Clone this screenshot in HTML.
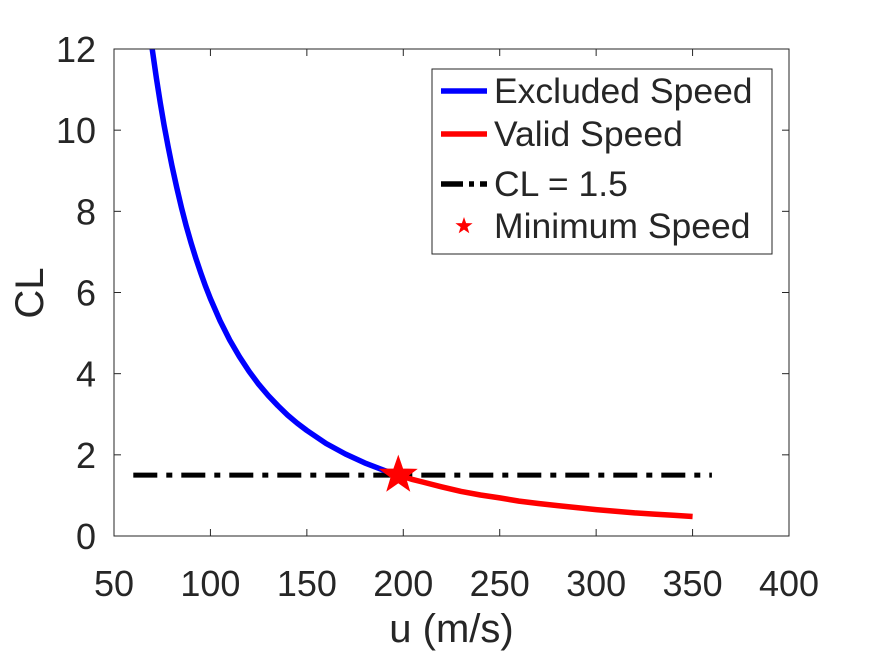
<!DOCTYPE html>
<html><head><meta charset="utf-8"><style>body{margin:0;background:#fff}svg{display:block}text{font-family:"Liberation Sans",sans-serif;fill:#262626}</style></head>
<body>
<svg id="chart" width="872" height="654">
<rect x="0" y="0" width="872" height="654" fill="#fff"/>
<g id="plot"></g>
</svg>
<script>
const excludedU=[69,70,72,74,76,78,80,82.5,85,87.5,90,92.5,95,97.5,100,105,110,115,120,125,130,135,140,145,150,160,170,180,190,197.4];
const excludedCL=[12.28,11.93,11.28,10.67,10.12,9.61,9.13,8.59,8.09,7.63,7.22,6.83,6.48,6.15,5.85,5.30,4.83,4.42,4.06,3.74,3.46,3.21,2.98,2.78,2.60,2.28,2.02,1.80,1.62,1.50];
const validU=[197.4,205,210,220,230,240,250,260,270,280,290,300,310,320,330,340,350];
const validCL=[1.50,1.39,1.33,1.21,1.10,1.01,0.94,0.86,0.80,0.75,0.70,0.65,0.61,0.57,0.54,0.51,0.48];
const refU=[60,360];
const refCL=[1.5,1.5];
const minU=[197.4];
const minCL=[1.5];
const xTicks=[50,100,150,200,250,300,350,400];
const yTicks=[0,2,4,6,8,10,12];

const L=114,R=789,T=49,B=536;
const xs=u=>L+(u-50)/350*(R-L);
const ys=c=>B-c/12*(B-T);
const NS="http://www.w3.org/2000/svg";
const g=document.getElementById('plot');
function mk(t,a,txt){const e=document.createElementNS(NS,t);for(const k in a)e.setAttribute(k,a[k]);if(txt!==undefined)e.textContent=txt;g.appendChild(e);return e;}

const defs=mk('defs',{});
const cp=document.createElementNS(NS,'clipPath');cp.setAttribute('id','clip');
const cr=document.createElementNS(NS,'rect');cr.setAttribute('x',L);cr.setAttribute('y',T);cr.setAttribute('width',R-L);cr.setAttribute('height',B-T);
cp.appendChild(cr);defs.appendChild(cp);

mk('rect',{x:L,y:T,width:R-L,height:B-T,fill:'#fff'});

xTicks.forEach(v=>{
 const x=xs(v);
 const t1=mk('line',{x1:x,x2:x,y1:B,y2:B-7,stroke:'#262626','stroke-width':1});
 
 mk('line',{x1:x,x2:x,y1:T,y2:T+7,stroke:'#262626','stroke-width':1});
 const lb=mk('text',{x:x,y:B+60,'text-anchor':'middle','font-size':36},v);
 
});
yTicks.forEach(v=>{
 const y=ys(v);
 const t1=mk('line',{x1:L,x2:L+7,y1:y,y2:y,stroke:'#262626','stroke-width':1});
 
 mk('line',{x1:R,x2:R-7,y1:y,y2:y,stroke:'#262626','stroke-width':1});
 const lb=mk('text',{x:L-18,y:y+13,'text-anchor':'end','font-size':36},v);
 
});

function path(us,cs){return us.map((u,i)=>(i?'L':'M')+xs(u).toFixed(1)+' '+ys(cs[i]).toFixed(1)).join(' ');}
const rf=mk('path',{d:path(refU,refCL),fill:'none',stroke:'#000','stroke-width':5,'stroke-dasharray':'24 9 6 9'});

const ex=mk('path',{d:path(excludedU,excludedCL),fill:'none',stroke:'#0000ff','stroke-width':5.5,'clip-path':'url(#clip)','stroke-linejoin':'round'});

const va=mk('path',{d:path(validU,validCL),fill:'none',stroke:'#ff0000','stroke-width':5.5,'clip-path':'url(#clip)','stroke-linejoin':'round'});


function star(cx,cy,r){let p=[];for(let i=0;i<10;i++){const a=-Math.PI/2+i*Math.PI/5;const rr=i%2?r*0.4:r;p.push((cx+rr*Math.cos(a)).toFixed(1)+','+(cy+rr*Math.sin(a)).toFixed(1));}return p.join(' ');}
minU.forEach((u,i)=>{const s=mk('polygon',{points:star(xs(u),ys(minCL[i]),19),fill:'#ff0000',stroke:'#ff0000'});
 });

const ax=mk('rect',{x:L,y:T,width:R-L,height:B-T,fill:'none',stroke:'#262626','stroke-width':1});


const xl=mk('text',{x:(L+R)/2,y:642,'text-anchor':'middle','font-size':40},'u (m/s)');

const yl=mk('text',{x:0,y:0,'text-anchor':'middle','font-size':40,transform:'translate(43,293) rotate(-90)'},'CL');


const lg=mk('rect',{x:432,y:69,width:340,height:185,fill:'#fff',stroke:'#262626','stroke-width':1});

const names=['Excluded Speed','Valid Speed','CL = 1.5','Minimum Speed'];
const ly=[91,134,184,226];
const l1=mk('line',{x1:441,x2:487,y1:ly[0],y2:ly[0],stroke:'#0000ff','stroke-width':5.5});
const l2=mk('line',{x1:441,x2:487,y1:ly[1],y2:ly[1],stroke:'#ff0000','stroke-width':5.5});
const l3=mk('line',{x1:441,x2:487,y1:ly[2],y2:ly[2],stroke:'#000','stroke-width':5.5,'stroke-dasharray':'22 6 5 6'});
const l4=mk('polygon',{points:star(464,ly[3],9),fill:'#ff0000'});
names.forEach((n,i)=>{const t=mk('text',{x:494,y:ly[i]+12,'font-size':35.5,fill:'#000'},n);
 });
</script>
</body></html>
